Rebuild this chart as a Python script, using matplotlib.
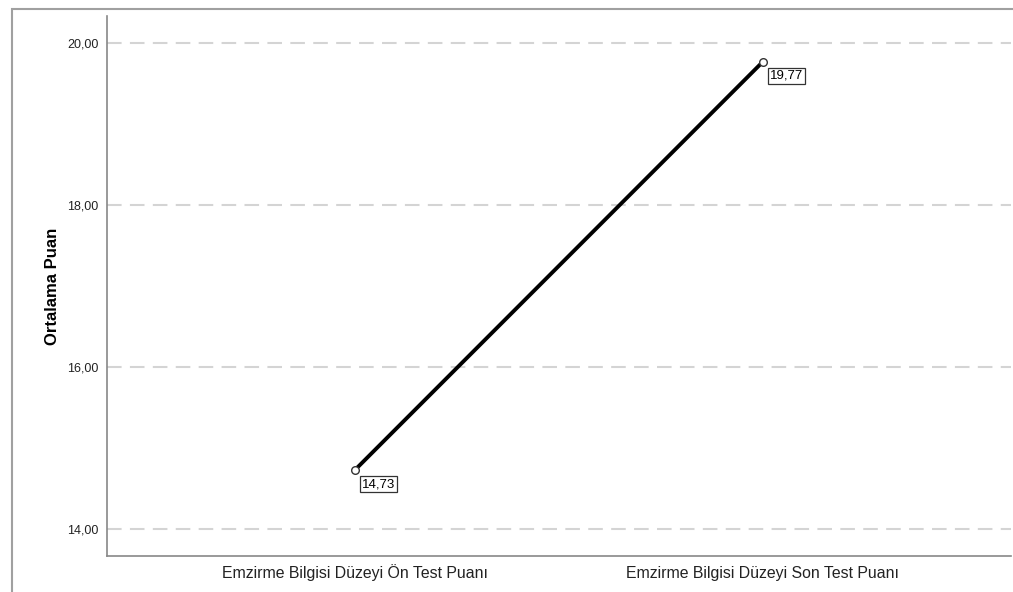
import matplotlib
matplotlib.use("Agg")
import matplotlib.pyplot as plt
from matplotlib.patches import Rectangle
from matplotlib.ticker import FuncFormatter

categories = ["Emzirme Bilgisi Düzeyi Ön Test Puanı", "Emzirme Bilgisi Düzeyi Son Test Puanı"]
means = [14.73, 19.77]
y_ticks = [14, 16, 18, 20]

plt.rcParams['font.family'] = ['Liberation Sans', 'DejaVu Sans']

fig = plt.figure(figsize=(10.13, 5.92), dpi=100)
W, H = 1013, 592
ax = fig.add_axes([107 / W, (H - 556) / H, (1011 - 107) / W, (556 - 16) / H])

# outer frame like SPSS output
fig.patches.append(Rectangle((12 / W, -0.1), 1.2, (H - 9) / H + 0.1, transform=fig.transFigure,
                             fill=False, edgecolor='#a0a0a0', linewidth=1.5, clip_on=False))

x = list(range(len(categories)))
ax.plot(x, means, color='black', linewidth=2.8, zorder=3)
ax.plot(x, means, 'o', markersize=5.5, markerfacecolor='white', markeredgecolor='#333333',
        markeredgewidth=1.0, zorder=4)

for xi, v in zip(x, means):
    ax.annotate(f"{v:.2f}".replace('.', ','), (xi, v), xytext=(5, -6), textcoords='offset points',
                ha='left', va='top', fontsize=9.5,
                bbox=dict(boxstyle='square,pad=0.15', facecolor='white', edgecolor='#333333', linewidth=0.9))

ax.set_xlim(-0.608, 1.608)
ax.set_ylim(14 - 27 / 81, 20 + 27 / 81)
ax.set_xticks(x)
ax.set_xticklabels(categories, va='baseline')
ax.set_yticks(y_ticks)
ax.yaxis.set_major_formatter(FuncFormatter(lambda v, p: f"{v:.2f}".replace('.', ',')))
ax.tick_params(axis='both', length=0, labelsize=9, colors='#222222')
ax.tick_params(axis='x', labelsize=11.4, pad=16)
ax.tick_params(axis='y', pad=6)

ax.grid(axis='y', color='#d4d4d4', linestyle=(0, (7, 4)), linewidth=1.5)
ax.set_axisbelow(True)
for s in ['top', 'right']:
    ax.spines[s].set_visible(False)
for s in ['left', 'bottom']:
    ax.spines[s].set_color('#888888')
    ax.spines[s].set_linewidth(1.2)

ax.set_ylabel("Ortalama Puan", fontsize=12, fontweight='bold', labelpad=5)

fig.savefig("out.png", dpi=100)
